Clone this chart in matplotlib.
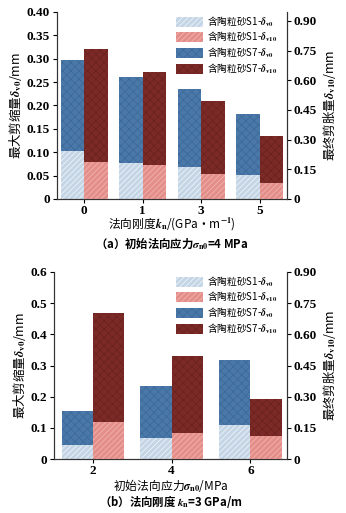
import numpy as np
import matplotlib
matplotlib.use("Agg")
import matplotlib.pyplot as plt
from matplotlib.patches import Patch
from matplotlib.ticker import FuncFormatter

plt.rcParams['font.family'] = ['Liberation Serif', 'Noto Sans CJK SC', 'DejaVu Sans']
plt.rcParams['font.weight'] = 'bold'
plt.rcParams['mathtext.fontset'] = 'stix'
plt.rcParams['hatch.linewidth'] = 0.6

# (a) sigma_n0 = 4 MPa, varying kn
kn_labels = ['0', '1', '3', '5']
a_s1_v0 = [0.103, 0.076, 0.068, 0.051]
a_s7_v0 = [0.298, 0.260, 0.236, 0.182]
a_s1_v10 = [0.186, 0.171, 0.128, 0.079]
a_s7_v10 = [0.756, 0.641, 0.494, 0.319]

# (b) kn = 3 GPa/m, varying sigma_n0
sn_labels = ['2', '4', '6']
b_s1_v0 = [0.046, 0.066, 0.109]
b_s7_v0 = [0.155, 0.235, 0.317]
b_s1_v10 = [0.177, 0.124, 0.110]
b_s7_v10 = [0.702, 0.496, 0.290]

legend_labels = ['含陶粒砂S1-$\\delta_{\\rm v0}$', '含陶粒砂S1-$\\delta_{\\rm v10}$',
                 '含陶粒砂S7-$\\delta_{\\rm v0}$', '含陶粒砂S7-$\\delta_{\\rm v10}$']

styles = [
    dict(facecolor='#c4d5e5', edgecolor='#eef3f8', hatch='//////'),
    dict(facecolor='#e48e8a', edgecolor='#f2b4b0', hatch='//////'),
    dict(facecolor='#4a78a8', edgecolor='#3e6a99', hatch='xxxx'),
    dict(facecolor='#7b2a27', edgecolor='#6c2320', hatch='xxxx'),
]

cjk = ['Noto Sans CJK SC', 'DejaVu Sans']
W, H = 346, 513


def fmt(v, nd):
    return '0' if abs(v) < 1e-9 else f'{v:.{nd}f}'


def panel(ax, labels, s1_v0, s7_v0, s1_v10, s7_v10, ylim_l, yticks_l, nd_l, ylim_r, xlim):
    x = np.arange(len(labels))
    w = 0.4
    axr = ax.twinx()
    ax.bar(x - w / 2, s7_v0, w, linewidth=0, **styles[2])
    ax.bar(x - w / 2, s1_v0, w, linewidth=0, **styles[0])
    axr.bar(x + w / 2, s7_v10, w, linewidth=0, **styles[3])
    axr.bar(x + w / 2, s1_v10, w, linewidth=0, **styles[1])
    ax.set_xlim(*xlim)
    ax.set_ylim(*ylim_l)
    axr.set_ylim(*ylim_r)
    ax.set_xticks(x)
    ax.set_xticklabels(labels)
    ax.set_yticks(yticks_l)
    ax.yaxis.set_major_formatter(FuncFormatter(lambda v, p: fmt(v, nd_l)))
    axr.set_yticks(np.arange(0, 0.91, 0.15))
    axr.yaxis.set_major_formatter(FuncFormatter(lambda v, p: fmt(v, 2)))
    for a in (ax, axr):
        a.spines['top'].set_visible(False)
        for s in a.spines.values():
            s.set_linewidth(0.8)
            s.set_color('#333333')
        a.tick_params(labelsize=9.5, width=0.8, length=3, pad=2,
                      labelfontfamily='Liberation Serif')
    ax.tick_params(axis='x', pad=1)
    ax.set_ylabel('最大剪缩量$\\delta_{\\rm v0}$/mm', family=cjk, fontsize=9,
                  fontweight='normal', labelpad=2)
    axr.set_ylabel('最终剪胀量$\\delta_{\\rm v10}$/mm', family=cjk, fontsize=9,
                   fontweight='normal', labelpad=3)
    handles = [Patch(linewidth=0, **s) for s in styles]
    axr.legend(handles, legend_labels, prop={'family': cjk, 'size': 7, 'weight': 'normal'},
               loc='upper right', bbox_to_anchor=(0.985, 1.02), frameon=False,
               handlelength=2.7, handleheight=1.2, handletextpad=0.5,
               labelspacing=0.12, borderaxespad=0.2)
    return axr


fig = plt.figure(figsize=(3.46, 5.13), dpi=100)

ax1 = fig.add_axes([57 / W, 1 - 199 / H, (287 - 57) / W, (199 - 12) / H])
panel(ax1, kn_labels, a_s1_v0, a_s7_v0, a_s1_v10, a_s7_v10,
      (0, 0.40), np.arange(0, 0.401, 0.05), 2, (0, 0.945), (-0.466, 3.466))
fig.text((57 + 287) / 2 / W, 1 - 224 / H, '法向刚度$k_{\\rm n}$/(GPa·m$^{-1}$)', family=cjk,
         fontsize=8.5, ha='center', va='center', fontweight='normal')
fig.text((57 + 287) / 2 / W, 1 - 243 / H, '（a）初始法向应力$\\sigma_{\\rm n0}$=4 MPa', family=cjk,
         fontsize=8.2, ha='center', va='center', fontweight='bold')

ax2 = fig.add_axes([54 / W, 1 - 459 / H, (287 - 54) / W, (459 - 272) / H])
panel(ax2, sn_labels, b_s1_v0, b_s7_v0, b_s1_v10, b_s7_v10,
      (0, 0.60), np.arange(0, 0.61, 0.1), 1, (0, 0.90), (-0.496, 2.466))
fig.text((54 + 287) / 2 / W, 1 - 485 / H, '初始法向应力$\\sigma_{\\rm n0}$/MPa', family=cjk,
         fontsize=8.5, ha='center', va='center', fontweight='normal')
fig.text((54 + 287) / 2 / W, 1 - 502 / H, '（b）法向刚度 $k_{\\rm n}$=3 GPa/m', family=cjk,
         fontsize=8.2, ha='center', va='center', fontweight='bold')

fig.savefig('out.png', dpi=100)
